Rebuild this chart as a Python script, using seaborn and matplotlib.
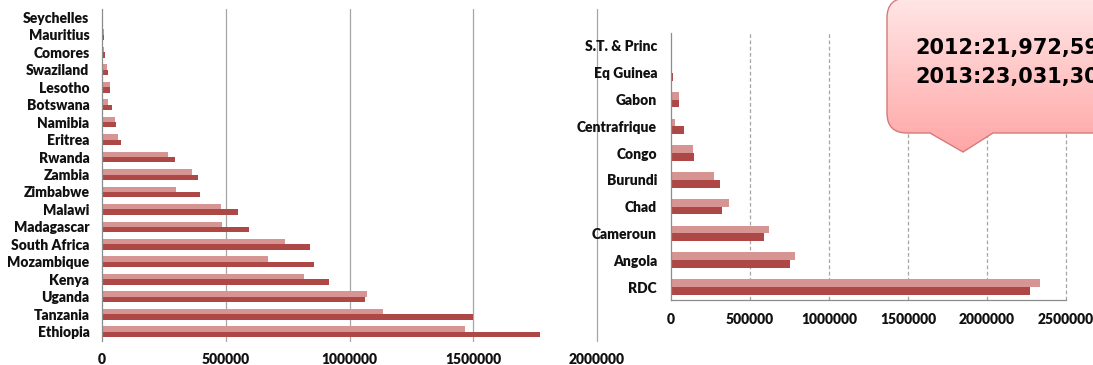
import numpy as np
import pandas as pd
import matplotlib
matplotlib.use("Agg")
import matplotlib.pyplot as plt
import seaborn as sns
from matplotlib.path import Path
from matplotlib.patches import PathPatch
from matplotlib.colors import LinearSegmentedColormap
from matplotlib.ticker import FuncFormatter

# East & southern Africa
east_south = ["Seychelles", "Mauritius", "Comores", "Swaziland", "Lesotho",
              "Botswana", "Namibia", "Eritrea", "Rwanda", "Zambia", "Zimbabwe",
              "Malawi", "Madagascar", "South Africa", "Mozambique", "Kenya",
              "Uganda", "Tanzania", "Ethiopia"]
east_south_2012 = [800, 9000, 9000, 21000, 31000, 23000, 51000, 66000, 268000,
                   362000, 301000, 480000, 484000, 738000, 670000, 815000,
                   1069000, 1136000, 1465000]
east_south_2013 = [900, 10000, 13000, 23000, 33000, 42000, 56000, 78000, 295000,
                   389000, 397000, 551000, 593000, 839000, 857000, 919000,
                   1061000, 1499000, 1768000]

# Central Africa
central = ["S.T. & Princ", "Eq Guinea", "Gabon", "Centrafrique", "Congo",
           "Burundi", "Chad", "Cameroun", "Angola", "RDC"]
central_2012 = [6000, 4000, 49000, 25000, 137000, 275000, 370000, 618000,
                786000, 2334000]
central_2013 = [2000, 10000, 51000, 80000, 145000, 313000, 321000, 588000,
                756000, 2269000]

years = ["2012", "2013"]
palette = {"2012": "#D69492", "2013": "#AE4846"}
left_ticks = [0, 500000, 1000000, 1500000, 2000000]
right_ticks = [0, 500000, 1000000, 1500000, 2000000, 2500000]
callout_lines = ["2012:21,972,597", "2013:23,031,308"]

sns.set_style("white")
plt.rcParams["font.family"] = ["Lato", "DejaVu Sans"]

W, H = 1093, 365
fig = plt.figure(figsize=(W / 100, H / 100), dpi=100)


def long_frame(names, v12, v13):
    return pd.DataFrame({
        "country": names * 2,
        "year": [years[0]] * len(names) + [years[1]] * len(names),
        "value": v12 + v13,
    })


def frac(x0, y0, x1, y1):
    return [x0 / W, 1 - y1 / H, (x1 - x0) / W, (y1 - y0) / H]


def style_axis(ax, names, ticks, xmax, grid_style, label_pad, xpad):
    n = len(names)
    ax.set_xlim(0, xmax)
    ax.set_ylim(n - 0.5, -0.5)
    ax.set_xticks(ticks)
    ax.xaxis.set_major_formatter(FuncFormatter(lambda v, p: f"{v:.0f}"))
    ax.set_yticks(np.arange(-0.5, n), minor=True)
    ax.tick_params(axis="y", which="major", length=0, pad=label_pad,
                   labelsize=10)
    ax.tick_params(axis="y", which="minor", length=4, width=0.9,
                   color="#8C8C8C", direction="out")
    ax.tick_params(axis="x", which="major", length=4, width=0.9,
                   color="#8C8C8C", direction="out", labelsize=10, pad=xpad)
    for lbl in ax.get_yticklabels() + ax.get_xticklabels():
        lbl.set_fontweight("heavy")
        lbl.set_color("#111111")
    ax.set_xlabel("")
    ax.set_ylabel("")
    for v in ticks[1:]:
        ax.axvline(v, color="#A6A6A6", lw=0.9, ls=grid_style, zorder=0,
                   clip_on=False)
    for side in ("top", "right"):
        ax.spines[side].set_visible(False)
    ax.spines["left"].set_color("#8C8C8C")
    ax.spines["left"].set_linewidth(0.9)


# Left panel
ax1 = fig.add_axes(frac(102, 8.5, 597, 340.5))
sns.barplot(data=long_frame(east_south, east_south_2012, east_south_2013),
            y="country", x="value", hue="year", hue_order=years,
            order=east_south, palette=palette, orient="h", width=0.62,
            saturation=1, linewidth=0, legend=False, ax=ax1)
style_axis(ax1, east_south, left_ticks, 2000000, "-", 9, 5)
ax1.spines["bottom"].set_visible(False)

# Right panel
ax2 = fig.add_axes(frac(671, 32.6, 1066, 300.4))
sns.barplot(data=long_frame(central, central_2012, central_2013),
            y="country", x="value", hue="year", hue_order=years,
            order=central, palette=palette, orient="h", width=0.58,
            saturation=1, linewidth=0, legend=False, ax=ax2)
style_axis(ax2, central, right_ticks, 2500000, (0, (3, 2)), 10, 5)
ax2.spines["bottom"].set_color("#8C8C8C")
ax2.spines["bottom"].set_linewidth(0.9)

# Callout bubble with totals
ov = fig.add_axes([0, 0, 1, 1], zorder=10)
ov.set_xlim(0, W)
ov.set_ylim(H, 0)
ov.axis("off")

x0, x1, y0, y1, r = 887, 1130, -2, 133, 20
px0, px1, apex = 930, 993, (963, 152)
verts = [(x0 + r, y0), (x1, y0), (x1, y1), (px1, y1), apex, (px0, y1),
         (x0 + r, y1), (x0, y1), (x0, y1 - r), (x0, y0 + r), (x0, y0),
         (x0 + r, y0), (x0 + r, y0)]
codes = [Path.MOVETO, Path.LINETO, Path.LINETO, Path.LINETO, Path.LINETO,
         Path.LINETO, Path.LINETO, Path.CURVE3, Path.CURVE3, Path.LINETO,
         Path.CURVE3, Path.CURVE3, Path.CLOSEPOLY]
bubble = PathPatch(Path(verts, codes), facecolor="none",
                   edgecolor="#D47A7A", lw=1.0, zorder=3)
ov.add_patch(bubble)
grad = np.linspace(0, 1, 256).reshape(-1, 1)
cmap = LinearSegmentedColormap.from_list("bubble", ["#FFE6E6", "#FFA6A6"])
img = ov.imshow(grad, extent=[x0, x1, apex[1], y0], aspect="auto",
                cmap=cmap, origin="upper", zorder=2)
img.set_clip_path(bubble)
ov.set_xlim(0, W)
ov.set_ylim(H, 0)

for i, line in enumerate(callout_lines):
    ov.text(915, 48 + 29 * i, line, fontsize=15, fontweight="bold",
            family=["DejaVu Sans"], color="black", va="center", ha="left",
            zorder=4)

fig.savefig("out.png", dpi=100)
